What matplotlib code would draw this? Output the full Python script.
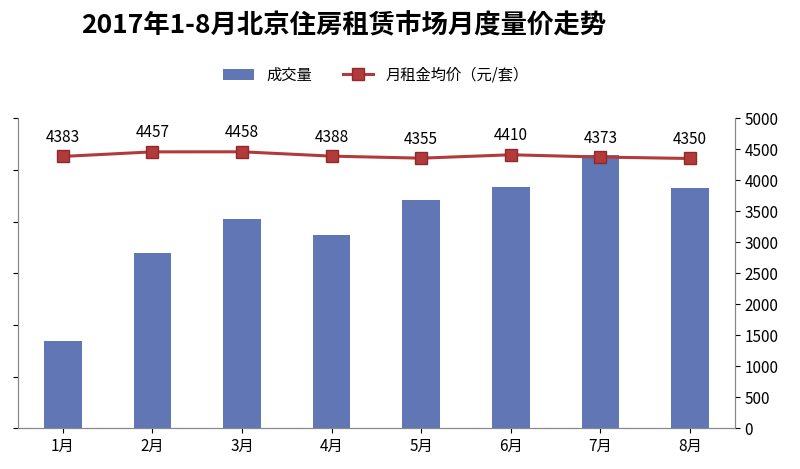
import matplotlib
matplotlib.use("Agg")
import matplotlib.pyplot as plt
from matplotlib import font_manager as fm

cands = ["Noto Sans CJK SC", "Noto Sans CJK JP", "Noto Sans CJK TC", "Noto Sans CJK KR", "Noto Sans SC"]
names = {f.name for f in fm.fontManager.ttflist}
fam = [c for c in cands if c in names]
if not fam:
    for f in fm.fontManager.ttflist:
        if "CJK" in f.fname or "CJK" in f.name:
            fam = [f.name]
            break
plt.rcParams["font.family"] = fam + ["DejaVu Sans"]

months = ["1月", "2月", "3月", "4月", "5月", "6月", "7月", "8月"]
volume = [16800, 33900, 40400, 37400, 44100, 46600, 52800, 46400]
price = [4383, 4457, 4458, 4388, 4355, 4410, 4373, 4350]
right_ticks = list(range(0, 5001, 500))

fig = plt.figure(figsize=(8, 4.69), dpi=100)
ax = fig.add_axes([0.0225, 0.087, 0.896, 0.661])
x = range(len(months))
b = ax.bar(x, volume, width=0.42, color="#6177B5", label="成交量", zorder=2)
ax.set_ylim(0, 60000)
ax.set_yticks(range(0, 60001, 10000))
ax.set_yticklabels([])
ax.set_xlim(-0.5, 7.5)
ax.set_xticks(list(x))
ax.set_xticklabels(months, fontsize=11)
ax2 = ax.twinx()
l, = ax2.plot(x, price, color="#B23A3A", lw=2.2, marker="s", ms=9,
              markerfacecolor="#B23A3A", markeredgecolor="#8E2A2A", label="月租金均价（元/套）")
ax2.set_ylim(0, 5000)
ax2.set_yticks(right_ticks)
ax2.tick_params(labelsize=11)
for i, v in zip(x, price):
    ax2.text(i, v + 170, str(v), ha="center", va="bottom", fontsize=11)
for a in (ax, ax2):
    a.spines["top"].set_visible(False)
    for s in ["left", "right", "bottom"]:
        a.spines[s].set_color("#888888")
fig.text(0.43, 0.945, "2017年1-8月北京住房租赁市场月度量价走势", ha="center", va="center",
         fontsize=19, fontweight="bold")
fig.legend([b, l], ["成交量", "月租金均价（元/套）"], loc="center", bbox_to_anchor=(0.47, 0.84),
           ncol=2, frameon=False, fontsize=11)
fig.savefig("out.png", dpi=100)
